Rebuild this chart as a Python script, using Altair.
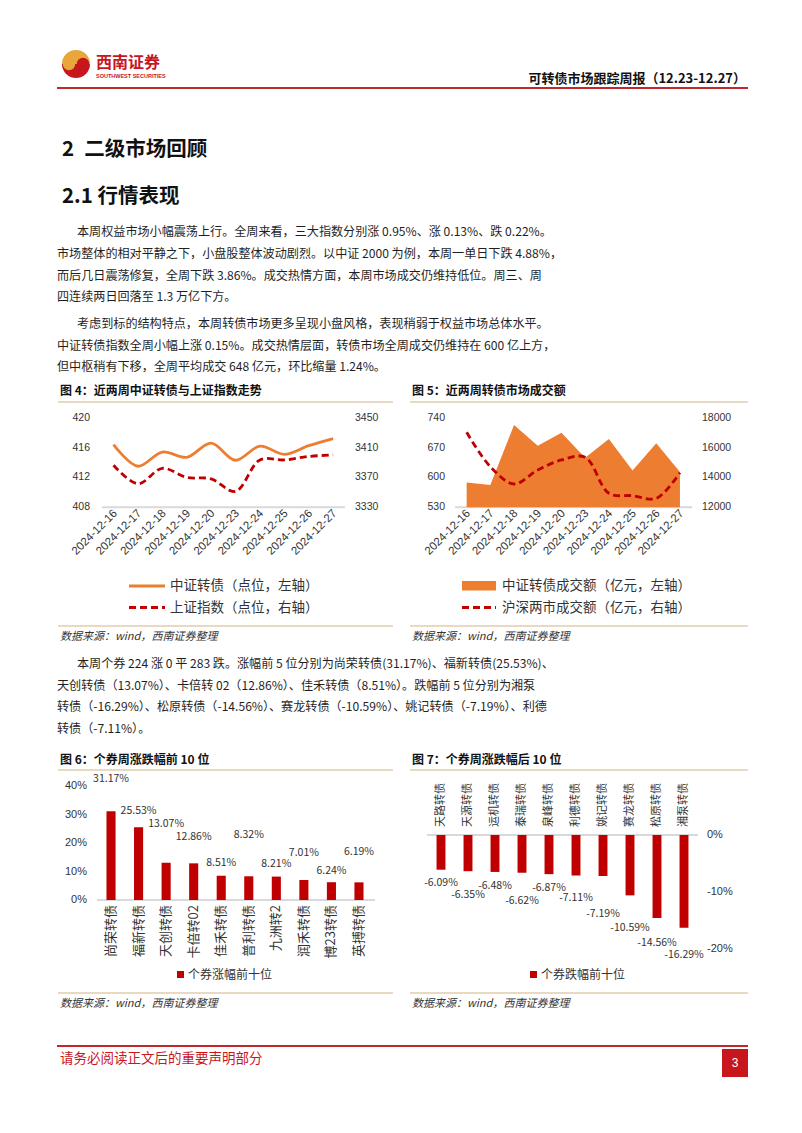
import altair as alt
import pandas as pd

# ------------------------------------------------------------------ data
dates = ["2024-12-16", "2024-12-17", "2024-12-18", "2024-12-19", "2024-12-20",
         "2024-12-23", "2024-12-24", "2024-12-25", "2024-12-26", "2024-12-27"]
cb_index = [416.4, 413.5, 415.4, 414.7, 416.6, 414.3, 416.2, 415.1, 416.25, 417.2]
sh_index = [3386.3, 3361.5, 3382.2, 3370.0, 3368.1, 3351.3, 3393.5, 3393.4, 3398.1, 3400.1]
cb_turnover = [588, 582, 723, 674, 705, 646, 690, 616, 680, 613]
mkt_turnover = [17020, 14720, 13560, 14500, 15170, 15350, 12940, 12780, 12600, 14320]

left4_ticks = [408, 412, 416, 420]
right4_ticks = [3330, 3370, 3410, 3450]
left5_ticks = [530, 600, 670, 740]
right5_ticks = [12000, 14000, 16000, 18000]

top_names = ["尚荣转债", "福新转债", "天创转债", "卡倍转02", "佳禾转债",
             "普利转债", "九洲转2", "润禾转债", "博23转债", "英搏转债"]
top_values = [31.17, 25.53, 13.07, 12.86, 8.51, 8.32, 8.21, 7.01, 6.24, 6.19]
bottom_names = ["天路转债", "天源转债", "运机转债", "泰瑞转债", "泉峰转债",
                "利德转债", "姚记转债", "赛龙转债", "松原转债", "湘泵转债"]
bottom_values = [-6.09, -6.35, -6.48, -6.62, -6.87, -7.11, -7.19, -10.59, -14.56, -16.29]
pct6_ticks = [0, 10, 20, 30, 40]
pct7_ticks = [0, -10, -20]

para1 = ["本周权益市场小幅震荡上行。全周来看，三大指数分别涨 0.95%、涨 0.13%、跌 0.22%。",
         "市场整体的相对平静之下，小盘股整体波动剧烈。以中证 2000 为例，本周一单日下跌 4.88%，",
         "而后几日震荡修复，全周下跌 3.86%。成交热情方面，本周市场成交仍维持低位。周三、周",
         "四连续两日回落至 1.3 万亿下方。"]
para2 = ["考虑到标的结构特点，本周转债市场更多呈现小盘风格，表现稍弱于权益市场总体水平。",
         "中证转债指数全周小幅上涨 0.15%。成交热情层面，转债市场全周成交仍维持在 600 亿上方，",
         "但中枢稍有下移，全周平均成交 648 亿元，环比缩量 1.24%。"]
para3 = ["本周个券 224 涨 0 平 283 跌。涨幅前 5 位分别为尚荣转债(31.17%)、福新转债(25.53%)、",
         "天创转债（13.07%）、卡倍转 02（12.86%）、佳禾转债（8.51%）。跌幅前 5 位分别为湘泵",
         "转债（-16.29%）、松原转债（-14.56%）、赛龙转债（-10.59%）、姚记转债（-7.19%）、利德",
         "转债（-7.11%）。"]

# ------------------------------------------------------------------ layout / style
OFF = 8
def P(v):
    return v - OFF

CJK = "Noto Sans CJK SC"
LAT = "Liberation Sans"
ORANGE = "#ED7D31"
DRED = "#C00000"
GRID = "#D9D9D9"
AX = "#333333"
TAN = "#D4B483"
BODY = "#1f1f1f"
BRAND = "#C8161D"
BODY_SIZE = 12.1

# label lifts (pixels) as placed in the original figures
lift6_px = [32, 16, 39, 26, 13, 41, 13, 27, 11, 30]
drop7_px = [13, 24, 14, 28, 14, 22.5, 38, 33, 25, 27]

ONE = pd.DataFrame({"k": [0]})
layers = []


def text(x, y, s, size=BODY_SIZE, color=BODY, weight="normal", align="left", font=CJK,
         style="normal", baseline="middle"):
    return alt.Chart(ONE).mark_text(
        text=s, fontSize=size, color=color, fontWeight=weight, align=align,
        font=font, baseline=baseline, fontStyle=style
    ).encode(x=alt.value(P(x)), y=alt.value(P(y)))


def rule(x1, y1, x2, y2, color, width=1.0, dash=None):
    kw = dict(color=color, strokeWidth=width)
    if dash:
        kw["strokeDash"] = dash
    return alt.Chart(ONE).mark_rule(**kw).encode(
        x=alt.value(P(x1)), y=alt.value(P(y1)), x2=alt.value(P(x2)), y2=alt.value(P(y2)))


def rect(x1, y1, x2, y2, color):
    return alt.Chart(ONE).mark_rect(color=color).encode(
        x=alt.value(P(x1)), y=alt.value(P(y1)), x2=alt.value(P(x2)), y2=alt.value(P(y2)))


def arc(cx, cy, r, t1, t2, color):
    return alt.Chart(ONE).mark_arc(radius=r, theta=t1, theta2=t2, color=color).encode(
        x=alt.value(P(cx)), y=alt.value(P(cy)))


def dot(cx, cy, r, color):
    return alt.Chart(ONE).mark_circle(size=3.1416 * r * r, color=color, opacity=1).encode(
        x=alt.value(P(cx)), y=alt.value(P(cy)))


# ------------------------------------------------------------------ header
layers += [
    arc(76, 64, 14, 4.712, 7.854, "#E9A73B"),
    arc(76, 64, 14, 1.571, 4.712, BRAND),
    dot(69, 64, 7, "#E9A73B"),
    dot(83, 64, 7, BRAND),
    text(96, 63, "西南证券", size=16, color=BRAND, weight="bold"),
    text(96, 76, "SOUTHWEST SECURITIES", size=5.5, color=BRAND, weight="bold", font=LAT),
    text(746, 79, "可转债市场跟踪周报（12.23-12.27）", size=13, color="#111111",
         weight="bold", align="right"),
    rule(57, 88, 748, 88, "#C0282E", 2),
    text(62, 150, "2\u2002二级市场回顾", size=20.5, color="#111111", weight="bold"),
    text(62, 197, "2.1 行情表现", size=20.5, color="#111111", weight="bold"),
]

for i, (line, yy) in enumerate(zip(para1, [232, 254, 276, 297])):
    layers.append(text(77 if i == 0 else 57, yy, line))
for i, (line, yy) in enumerate(zip(para2, [324, 346, 367])):
    layers.append(text(77 if i == 0 else 57, yy, line))
for i, (line, yy) in enumerate(zip(para3, [664, 686, 707, 729])):
    layers.append(text(77 if i == 0 else 57, yy, line))

# figure frames
for (tx, ty, title, lx1, lx2, y_top, y_bot, y_src) in [
    (60, 391, "图 4：近两周中证转债与上证指数走势", 58, 393, 402, 626, 637),
    (412, 391, "图 5：近两周转债市场成交额", 410, 748, 402, 626, 637),
    (60, 760, "图 6：个券周涨跌幅前 10 位", 58, 393, 770, 993, 1004),
    (412, 760, "图 7：个券周涨跌幅后 10 位", 410, 748, 770, 993, 1004),
]:
    layers += [
        text(tx, ty, title, size=12, color="#111111", weight="bold"),
        rule(lx1, y_top, lx2, y_top, TAN, 1.2),
        rule(lx1, y_bot, lx2, y_bot, TAN, 1.2),
        text(tx, y_src, "数据来源：wind，西南证券整理", size=11, color="#333333", style="italic"),
    ]

# legends
layers += [
    rule(129, 586, 165, 586, ORANGE, 3),
    text(170, 586, "中证转债（点位，左轴）", size=13.5, color=AX),
    rule(129, 607.5, 165, 607.5, DRED, 3, [7, 4]),
    text(170, 607.5, "上证指数（点位，右轴）", size=13.5, color=AX),
    rect(462, 581, 496, 590.5, ORANGE),
    text(502, 586, "中证转债成交额（亿元，左轴）", size=13.5, color=AX),
    rule(462, 607.5, 496, 607.5, DRED, 3, [7, 4]),
    text(502, 607.5, "沪深两市成交额（亿元，右轴）", size=13.5, color=AX),
    rect(177, 971, 184, 978, DRED),
    text(188, 974.5, "个券涨幅前十位", size=12, color=AX),
    rect(530, 971, 537, 978, DRED),
    text(541, 974.5, "个券跌幅前十位", size=12, color=AX),
]

# footer
layers += [
    rule(57, 1046, 748, 1046, "#C0282E", 2),
    text(60, 1059, "请务必阅读正文后的重要声明部分", size=13.5, color=BRAND),
    rect(722, 1049, 748, 1077, BRAND),
    text(735, 1063, "3", size=12, color="white", align="center", font=LAT),
]

# ------------------------------------------------------------------ chart 4
df4 = pd.DataFrame({"date": dates, "cb": cb_index, "sh": sh_index})
x4 = alt.Scale(type="point", domain=dates, range=[P(101.3), P(345.3)], padding=0.5)
X4 = alt.X("date:N", scale=x4, axis=None)
yl4 = alt.Scale(domain=[408, 420], range=[P(507.3), P(417.7)], zero=False, nice=False)
yr4 = alt.Scale(domain=[3330, 3450], range=[P(507.3), P(417.7)], zero=False, nice=False)

left4 = alt.layer(
    alt.Chart(pd.DataFrame({"v": [left4_ticks[0]]})).mark_rule(color=GRID, strokeWidth=2).encode(
        y=alt.Y("v:Q", scale=yl4, axis=None), x=alt.value(P(102)), x2=alt.value(P(345))),
    alt.Chart(df4).mark_line(color=ORANGE, strokeWidth=2.8, interpolate="catmull-rom").encode(
        x=X4, y=alt.Y("cb:Q", scale=yl4, axis=None)),
    alt.Chart(pd.DataFrame({"v": left4_ticks, "s": [str(t) for t in left4_ticks]})).mark_text(
        align="right", baseline="middle", font=LAT, fontSize=10.5, color=AX).encode(
        y=alt.Y("v:Q", scale=yl4, axis=None), x=alt.value(P(90)), text="s:N"),
    alt.Chart(df4).mark_text(angle=315, align="right", baseline="middle", font=LAT,
                             fontSize=11.5, color=AX, dx=3).encode(
        x=X4, y=alt.value(P(514)), text="date:N"),
)
right4 = alt.layer(
    alt.Chart(df4).mark_line(color=DRED, strokeWidth=2.8, strokeDash=[7, 4],
                             interpolate="catmull-rom").encode(
        x=X4, y=alt.Y("sh:Q", scale=yr4, axis=None)),
    alt.Chart(pd.DataFrame({"v": right4_ticks, "s": [str(t) for t in right4_ticks]})).mark_text(
        align="left", baseline="middle", font=LAT, fontSize=10.5, color=AX).encode(
        y=alt.Y("v:Q", scale=yr4, axis=None), x=alt.value(P(355)), text="s:N"),
)
chart4 = alt.layer(left4, right4).resolve_scale(y="independent")

# ------------------------------------------------------------------ chart 5
df5 = pd.DataFrame({"date": dates, "cbt": cb_turnover, "mkt": mkt_turnover})
x5 = alt.Scale(type="point", domain=dates, range=[P(454.8), P(691.8)], padding=0.5)
X5 = alt.X("date:N", scale=x5, axis=None)
yl5 = alt.Scale(domain=[530, 740], range=[P(507.3), P(417.7)], zero=False, nice=False)
yr5 = alt.Scale(domain=[12000, 18000], range=[P(507.3), P(417.7)], zero=False, nice=False)

left5 = alt.layer(
    alt.Chart(pd.DataFrame({"v": [left5_ticks[0]]})).mark_rule(color=GRID, strokeWidth=2).encode(
        y=alt.Y("v:Q", scale=yl5, axis=None), x=alt.value(P(455)), x2=alt.value(P(692))),
    alt.Chart(df5).mark_area(color=ORANGE, opacity=1).encode(
        x=X5, y=alt.Y("cbt:Q", scale=yl5, axis=None), y2=alt.datum(530)),
    alt.Chart(pd.DataFrame({"v": left5_ticks, "s": [str(t) for t in left5_ticks]})).mark_text(
        align="right", baseline="middle", font=LAT, fontSize=10.5, color=AX).encode(
        y=alt.Y("v:Q", scale=yl5, axis=None), x=alt.value(P(445)), text="s:N"),
    alt.Chart(df5).mark_text(angle=315, align="right", baseline="middle", font=LAT,
                             fontSize=11.5, color=AX, dx=3).encode(
        x=X5, y=alt.value(P(514)), text="date:N"),
)
right5 = alt.layer(
    alt.Chart(df5).mark_line(color=DRED, strokeWidth=2.8, strokeDash=[7, 4],
                             interpolate="catmull-rom").encode(
        x=X5, y=alt.Y("mkt:Q", scale=yr5, axis=None)),
    alt.Chart(pd.DataFrame({"v": right5_ticks, "s": [str(t) for t in right5_ticks]})).mark_text(
        align="left", baseline="middle", font=LAT, fontSize=10.5, color=AX).encode(
        y=alt.Y("v:Q", scale=yr5, axis=None), x=alt.value(P(702)), text="s:N"),
)
chart5 = alt.layer(left5, right5).resolve_scale(y="independent")

# ------------------------------------------------------------------ chart 6
px6 = 114.0 / 40.0
df6 = pd.DataFrame({
    "name": top_names, "value": top_values,
    "lab": [f"{v:.2f}%" for v in top_values],
    "lab_pos": [v + l / px6 for v, l in zip(top_values, lift6_px)],
})
x6 = alt.Scale(type="band", domain=top_names, range=[P(97.25), P(372.75)],
               paddingInner=0.67, paddingOuter=0.335)
X6 = alt.X("name:N", scale=x6, axis=None, sort=None)
y6 = alt.Scale(domain=[0, 40], range=[P(900), P(786)], nice=False)
chart6 = alt.layer(
    alt.Chart(pd.DataFrame({"v": [0]})).mark_rule(color=GRID, strokeWidth=2).encode(
        y=alt.Y("v:Q", scale=y6, axis=None), x=alt.value(P(97)), x2=alt.value(P(375))),
    alt.Chart(df6).mark_bar(color=DRED).encode(
        x=X6, y=alt.Y("value:Q", scale=y6, axis=None), y2=alt.datum(0)),
    alt.Chart(df6).mark_text(align="center", baseline="middle", font=CJK, fontSize=10.5,
                             color=AX).encode(
        x=X6, y=alt.Y("lab_pos:Q", scale=y6, axis=None), text="lab:N"),
    alt.Chart(df6).mark_text(angle=270, align="right", baseline="middle", font=CJK,
                             fontSize=13, color=AX).encode(
        x=X6, y=alt.value(P(905)), text="name:N"),
    alt.Chart(pd.DataFrame({"v": pct6_ticks, "s": [f"{t}%" for t in pct6_ticks]})).mark_text(
        align="right", baseline="middle", font=LAT, fontSize=11, color=AX).encode(
        y=alt.Y("v:Q", scale=y6, axis=None), x=alt.value(P(87)), text="s:N"),
)

# ------------------------------------------------------------------ chart 7
px7 = 114.0 / 20.0
df7 = pd.DataFrame({
    "name": bottom_names, "value": bottom_values,
    "lab": [f"{v:.2f}%" for v in bottom_values],
    "lab_pos": [v - d / px7 for v, d in zip(bottom_values, drop7_px)],
})
x7 = alt.Scale(type="band", domain=bottom_names, range=[P(427.5), P(697.5)],
               paddingInner=0.67, paddingOuter=0.335)
X7 = alt.X("name:N", scale=x7, axis=None, sort=None)
y7 = alt.Scale(domain=[-20, 0], range=[P(949), P(835)], nice=False, zero=False)
chart7 = alt.layer(
    alt.Chart(pd.DataFrame({"v": [0]})).mark_rule(color=GRID, strokeWidth=2).encode(
        y=alt.Y("v:Q", scale=y7, axis=None), x=alt.value(P(427)), x2=alt.value(P(698))),
    alt.Chart(df7).mark_bar(color=DRED).encode(
        x=X7, y=alt.Y("value:Q", scale=y7, axis=None), y2=alt.datum(0)),
    alt.Chart(df7).mark_text(align="center", baseline="middle", font=CJK, fontSize=10.5,
                             color=AX).encode(
        x=X7, y=alt.Y("lab_pos:Q", scale=y7, axis=None), text="lab:N"),
    alt.Chart(df7).mark_text(angle=270, align="left", baseline="middle", font=CJK,
                             fontSize=11, color=AX).encode(
        x=X7, y=alt.value(P(827)), text="name:N"),
    alt.Chart(pd.DataFrame({"v": pct7_ticks, "s": [f"{t}%" for t in pct7_ticks]})).mark_text(
        align="left", baseline="middle", font=LAT, fontSize=11, color=AX).encode(
        y=alt.Y("v:Q", scale=y7, axis=None), x=alt.value(P(707)), text="s:N"),
)

chart = alt.layer(*layers, chart4, chart5, chart6, chart7).resolve_scale(
    x="independent", y="independent"
).properties(
    width=786, height=1100, padding=0, autosize=alt.AutoSizeParams(type="none")
).configure_view(strokeWidth=0)

chart.save("out.html", embed_options={"renderer": "svg", "actions": False})
